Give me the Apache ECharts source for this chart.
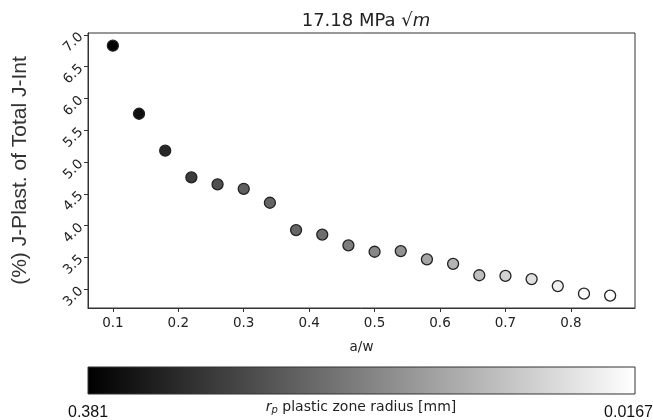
<!DOCTYPE html>
<html>
<head>
<meta charset="utf-8">
<script src="https://cdn.jsdelivr.net/npm/echarts@6/dist/echarts.min.js"></script>
<style>html,body{margin:0;padding:0;background:#fff}#c{width:653px;height:420px}</style>
</head>
<body>
<div id="c"></div>
<script>
// a/w values
var aw = [0.10,0.14,0.18,0.22,0.26,0.30,0.34,0.38,0.42,0.46,0.50,0.54,0.58,0.62,0.66,0.70,0.74,0.78,0.82,0.86];
// (%) J-Plast. of Total J-Int
var jPlast = [6.83,5.76,5.18,4.76,4.65,4.58,4.36,3.93,3.86,3.69,3.59,3.60,3.47,3.40,3.22,3.21,3.16,3.05,2.93,2.90];
// plastic zone radius r_p [mm]
var rp = [0.381,0.360,0.324,0.295,0.267,0.245,0.238,0.235,0.224,0.202,0.188,0.174,0.145,0.124,0.110,0.081,0.060,0.038,0.024,0.0167];
var xTicks = [0.1,0.2,0.3,0.4,0.5,0.6,0.7,0.8];
var yTicks = [3.0,3.5,4.0,4.5,5.0,5.5,6.0,6.5,7.0];
var rpMin = 0.0167, rpMax = 0.381;

var data = aw.map(function(a,i){return [a, jPlast[i], rp[i]];});

var chart = echarts.init(document.getElementById('c'), null, {renderer:'canvas'});
var tickFont = {fontFamily:'DejaVu Sans', fontSize:13.5, color:'#222'};
var L = 88, R = 18, T = 33, B = 112;
chart.setOption({
  animation:false,
  backgroundColor:'#fff',
  title:{
    text:'{a|17.18 MPa √}{b|m}',
    left:361, top:7, textAlign:'center',
    textStyle:{fontWeight:'normal', rich:{
      a:{fontFamily:'DejaVu Sans', fontSize:18, fontWeight:'normal', color:'#222'},
      b:{fontFamily:'DejaVu Sans', fontSize:18, fontWeight:'normal', fontStyle:'italic', color:'#222'}
    }}
  },
  grid:{left:L, right:R, top:T, bottom:B, show:true, borderColor:'#333', borderWidth:1, backgroundColor:'transparent'},
  xAxis:{
    type:'value', min:0.062, max:0.898,
    name:'a/w', nameLocation:'middle', nameGap:32,
    nameTextStyle:{fontFamily:'DejaVu Sans', fontSize:13.5, color:'#222'},
    axisLine:{show:true, lineStyle:{color:'#333', width:1}},
    axisTick:{show:true, length:4, lineStyle:{color:'#333'}, customValues:xTicks},
    axisLabel:Object.assign({customValues:xTicks, margin:8, formatter:function(v){return v.toFixed(1);}}, tickFont),
    splitLine:{show:false}
  },
  yAxis:{
    type:'value', min:2.705, max:7.03,
    name:'(%) J-Plast. of Total J-Int', nameLocation:'middle', nameGap:57, nameRotate:90,
    nameTextStyle:{fontFamily:'Liberation Sans', fontSize:21, color:'#333'},
    axisLine:{show:true, lineStyle:{color:'#333', width:1}},
    axisTick:{show:true, length:4, lineStyle:{color:'#333'}, customValues:yTicks},
    axisLabel:Object.assign({customValues:yTicks, rotate:45, margin:7, formatter:function(v){return v.toFixed(1);}}, tickFont),
    splitLine:{show:false}
  },
  visualMap:{
    show:false, type:'continuous', dimension:2, min:rpMin, max:rpMax,
    inRange:{color:['#ffffff','#000000']}
  },
  series:[{
    type:'scatter', data:data, symbolSize:11,
    itemStyle:{borderColor:'#222', borderWidth:1.3, opacity:1}
  }],
  graphic:[
    {type:'rect', shape:{x:L, y:367, width:653-L-R, height:27},
     style:{fill:new echarts.graphic.LinearGradient(0,0,1,0,[{offset:0,color:'#000'},{offset:1,color:'#fff'}]), stroke:'#333', lineWidth:1}},
    {type:'text', x:68, y:413, style:{text:String(rpMax), font:'16px "Liberation Sans"', fill:'#111', verticalAlign:'middle', align:'left'}},
    {type:'text', x:653, y:413, style:{text:String(rpMin), font:'16px "Liberation Sans"', fill:'#111', verticalAlign:'middle', align:'right'}},
    {type:'text', x:361, y:407, style:{
      text:'{i|r}{s|p}{n| plastic zone radius [mm]}', align:'center', verticalAlign:'middle',
      rich:{
        i:{fontFamily:'DejaVu Sans', fontSize:14, fontStyle:'italic', fill:'#222'},
        s:{fontFamily:'DejaVu Sans', fontSize:10, fontStyle:'italic', fill:'#222', padding:[6,0,0,0]},
        n:{fontFamily:'DejaVu Sans', fontSize:14, fill:'#222'}
      }}}
  ]
});
</script>
</body>
</html>
